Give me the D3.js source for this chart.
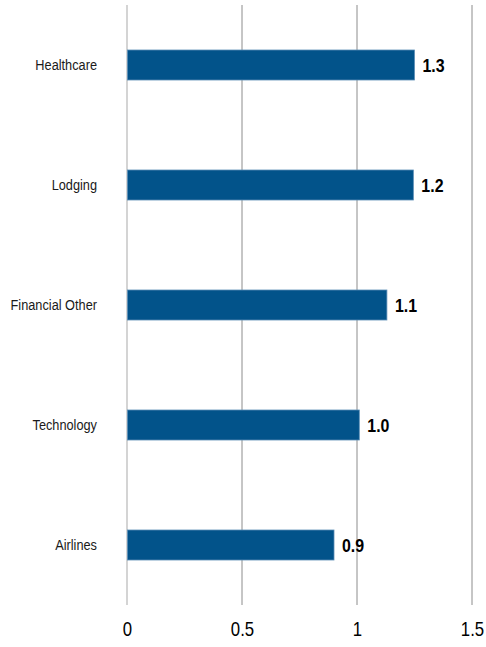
<!DOCTYPE html>
<html>
<head>
<meta charset="utf-8">
<script src="https://cdn.jsdelivr.net/npm/d3@7"></script>
<style>
  body { margin: 0; background: #fff; }
  text { font-family: "Liberation Sans Narrow", "Arial Narrow", "Liberation Sans", Arial, sans-serif; }
</style>
</head>
<body>
<div id="chart"></div>
<script>
const categories = ['Healthcare', 'Lodging', 'Financial Other', 'Technology', 'Airlines'];
const values = [1.25, 1.245, 1.13, 1.01, 0.9];
const valueLabels = ['1.3', '1.2', '1.1', '1.0', '0.9'];
const ticks = [0, 0.5, 1, 1.5];

const width = 486;
const height = 647;
const narrow = 'scale(0.84,1)'; // fake a condensed face, no narrow font installed

const svg = d3.select('#chart').append('svg')
    .attr('width', width)
    .attr('height', height);

const x = d3.scaleLinear()
    .domain([0, 1.5])
    .range([127, 472]);

const y = d3.scaleBand()
    .domain(categories)
    .range([5, 605])
    .paddingInner(0.75)
    .paddingOuter(0.375);

// grid lines
svg.append('g')
    .selectAll('line')
    .data(ticks)
    .enter()
    .append('line')
    .attr('x1', d => x(d))
    .attr('x2', d => x(d))
    .attr('y1', 5)
    .attr('y2', 605)
    .attr('stroke', d => d === 0 ? '#d4d4d4' : '#8c8c8c')
    .attr('stroke-width', d => d === 0 ? 2 : 1);

// x axis labels
const xAxis = svg.append('g')
    .attr('transform', 'translate(0,620)')
    .call(d3.axisBottom(x).tickValues(ticks).tickFormat(d3.format('')).tickSize(0));
xAxis.select('.domain').remove();
xAxis.selectAll('text')
    .attr('dy', '0.75em')
    .attr('y', 1)
    .attr('transform', narrow)
    .style('font-size', '20px')
    .attr('fill', '#000');

// category labels
const yAxis = svg.append('g')
    .attr('transform', 'translate(97,0)')
    .call(d3.axisLeft(y).tickSize(0).tickPadding(0));
yAxis.select('.domain').remove();
yAxis.selectAll('text')
    .attr('transform', 'scale(0.88,1)')
    .style('font-size', '14.5px')
    .attr('fill', '#1a1a1a');

// bars
svg.append('g')
    .selectAll('rect')
    .data(categories)
    .enter()
    .append('rect')
    .attr('x', x(0) + 0.5)
    .attr('y', d => y(d))
    .attr('width', (d, i) => x(values[i]) - x(0) - 0.5)
    .attr('height', y.bandwidth())
    .attr('fill', '#02538a')
    .attr('stroke', '#5b8db5')
    .attr('stroke-width', 0.8);

// value labels
svg.append('g')
    .selectAll('text')
    .data(categories)
    .enter()
    .append('text')
    .attr('transform', (d, i) => `translate(${x(values[i]) + 8},${y(d) + y.bandwidth() / 2}) ${narrow}`)
    .attr('dy', '0.35em')
    .style('font-size', '19px')
    .style('font-weight', 'bold')
    .attr('fill', '#000')
    .text((d, i) => valueLabels[i]);
</script>
</body>
</html>
